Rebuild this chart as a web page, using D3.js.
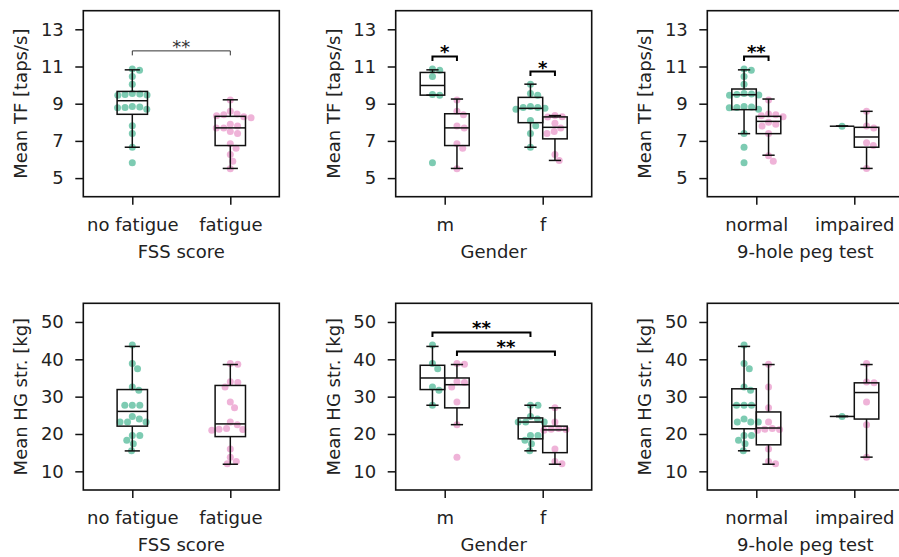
<!DOCTYPE html>
<html>
<head>
<meta charset="utf-8">
<script src="https://cdn.jsdelivr.net/npm/d3@7"></script>
<style>
  html, body { margin: 0; padding: 0; background: #fff; overflow: hidden; }
  svg { display: block; font-family: "DejaVu Sans", sans-serif; }
</style>
</head>
<body>
<div id="chart"></div>
<script>
// categories
var fssCats = ["no fatigue", "fatigue"];
var genderCats = ["m", "f"];
var pegCats = ["normal", "impaired"];

// mean tapping frequency [taps/s]
var tfFssNo = [10.86, 10.8, 10.46, 10.05, 9.55, 9.52, 9.5, 9.47, 9.45, 8.85, 8.82, 8.8, 8.78, 8.7, 7.82, 7.4, 6.66, 5.82];
var tfFssYes = [9.2, 8.6, 8.45, 8.4, 8.35, 8.3, 8.25, 7.9, 7.8, 7.7, 7.7, 7.5, 7.4, 6.85, 6.6, 6.27, 5.9, 5.5];
var tfMNo = [10.86, 10.8, 10.46, 9.5, 9.45, 5.82];
var tfMYes = [9.2, 8.6, 8.4, 7.8, 7.7, 6.85, 6.6, 5.5];
var tfFNo = [10.05, 9.55, 9.45, 8.85, 8.8, 8.8, 8.75, 8.7, 8.1, 7.82, 7.4, 6.66];
var tfFYes = [8.36, 8.3, 8.28, 7.95, 7.7, 7.5, 7.4, 6.27, 5.95];
var tfNormNo = [10.86, 10.8, 10.46, 10.05, 9.55, 9.52, 9.5, 9.47, 9.45, 8.85, 8.82, 8.8, 8.78, 8.7, 7.4, 6.66, 5.82];
var tfNormYes = [9.2, 8.45, 8.4, 8.35, 8.3, 8.0, 7.9, 7.8, 7.4, 6.2, 5.9];
var tfImpNo = [7.79];
var tfImpYes = [8.59, 7.8, 7.7, 6.9, 6.75, 5.52];

// box stats: [low whisker, q1, median, q3, high whisker]
var tfFssNoBox = [6.66, 8.43, 9.16, 9.66, 10.82];
var tfFssYesBox = [5.52, 6.75, 7.7, 8.32, 9.21];
var tfMNoBox = [9.46, 9.46, 9.98, 10.68, 10.82];
var tfMYesBox = [5.52, 6.75, 7.7, 8.46, 9.25];
var tfFNoBox = [6.66, 7.98, 8.75, 9.34, 10.05];
var tfFYesBox = [5.95, 7.11, 7.73, 8.29, 8.36];
var tfNormNoBox = [7.39, 8.68, 9.48, 9.79, 10.82];
var tfNormYesBox = [6.23, 7.39, 8.05, 8.32, 9.25];
var tfImpNoBox = [7.79, 7.79, 7.79, 7.79, 7.79];
var tfImpYesBox = [5.52, 6.66, 7.21, 7.73, 8.59];

// mean hand grip strength [kg]
var hgFssNo = [43.8, 38.9, 37.5, 32.6, 31.7, 27.7, 27.7, 27.7, 24.7, 24.0, 23.2, 23.2, 23.2, 19.6, 19.6, 18.3, 17.4, 15.5];
var hgFssYes = [38.9, 38.7, 34.0, 33.8, 32.6, 28.6, 27.0, 23.2, 22.5, 21.5, 21.3, 21.2, 21.0, 16.0, 13.8, 12.6, 12.0];
var hgMNo = [43.8, 38.9, 37.5, 32.6, 31.7, 27.7];
var hgMYes = [38.9, 38.7, 34.0, 33.8, 32.6, 28.6, 22.5, 13.8];
var hgFNo = [27.7, 27.7, 24.7, 24.0, 23.2, 23.2, 23.2, 19.6, 19.6, 18.3, 17.4, 15.5];
var hgFYes = [27.0, 23.2, 21.5, 21.3, 21.2, 21.0, 16.0, 12.6, 12.0];
var hgNormNo = [43.8, 38.9, 37.5, 32.6, 31.7, 27.7, 27.7, 27.7, 24.0, 23.2, 23.2, 23.2, 19.6, 19.6, 18.3, 17.4, 15.5];
var hgNormYes = [38.7, 32.6, 27.0, 23.2, 21.5, 21.3, 21.2, 21.0, 16.0, 12.6, 12.0];
var hgImpNo = [24.7];
var hgImpYes = [38.9, 33.9, 33.7, 28.6, 22.5, 13.8];

var hgFssNoBox = [15.47, 22.1, 26.05, 31.9, 43.45];
var hgFssYesBox = [11.9, 19.3, 22.7, 33.0, 38.6];
var hgMNoBox = [27.7, 31.9, 35.0, 38.4, 43.45];
var hgMYesBox = [22.5, 27.0, 33.2, 35.0, 38.6];
var hgFNoBox = [15.5, 18.7, 23.2, 24.3, 27.7];
var hgFYesBox = [11.9, 15.0, 21.1, 22.1, 27.0];
var hgNormNoBox = [15.5, 21.4, 27.7, 32.1, 43.45];
var hgNormYesBox = [11.9, 17.1, 21.6, 25.9, 38.6];
var hgImpNoBox = [24.7, 24.7, 24.7, 24.7, 24.7];
var hgImpYesBox = [13.8, 24.0, 31.1, 33.7, 38.6];

// axis ticks
var tfTicks = [5, 7, 9, 11, 13];
var hgTicks = [10, 20, 30, 40, 50];

var green = "#66c2a5", pink = "#e78ac3";

var W = 899, H = 557;
var svg = d3.select("#chart").append("svg").attr("width", W).attr("height", H);

var colX = [83.3, 395.7, 707.3], axW = 196;
var rowY = [[10.7, 196.7], [303.3, 490]];

function grp(cat, off, w, color, vals, box) {
    return { cat: cat, off: off, w: w, color: color, vals: vals, box: box };
}

var panels = [
    { r: 0, c: 0, cats: fssCats, dom: [4, 14], ticks: tfTicks, ylab: "Mean TF [taps/s]", xlab: "FSS score",
      groups: [grp(0, 0, 0.31, green, tfFssNo, tfFssNoBox), grp(1, 0, 0.31, pink, tfFssYes, tfFssYesBox)],
      sig: [{ x0: 0, x1: 1, y: 11.84, t: "**", light: true }] },
    { r: 0, c: 1, cats: genderCats, dom: [4, 14], ticks: tfTicks, ylab: "Mean TF [taps/s]", xlab: "Gender",
      groups: [grp(0, -0.125, 0.25, green, tfMNo, tfMNoBox), grp(0, 0.125, 0.25, pink, tfMYes, tfMYesBox),
               grp(1, -0.125, 0.25, green, tfFNo, tfFNoBox), grp(1, 0.125, 0.25, pink, tfFYes, tfFYesBox)],
      sig: [{ x0: -0.125, x1: 0.125, y: 11.54, t: "*" }, { x0: 0.875, x1: 1.125, y: 10.73, t: "*" }] },
    { r: 0, c: 2, cats: pegCats, dom: [4, 14], ticks: tfTicks, ylab: "Mean TF [taps/s]", xlab: "9-hole peg test",
      groups: [grp(0, -0.125, 0.25, green, tfNormNo, tfNormNoBox), grp(0, 0.125, 0.25, pink, tfNormYes, tfNormYesBox),
               grp(1, -0.125, 0.25, green, tfImpNo, tfImpNoBox), grp(1, 0.125, 0.25, pink, tfImpYes, tfImpYesBox)],
      sig: [{ x0: -0.125, x1: 0.125, y: 11.54, t: "**" }] },
    { r: 1, c: 0, cats: fssCats, dom: [5, 55], ticks: hgTicks, ylab: "Mean HG str. [kg]", xlab: "FSS score",
      groups: [grp(0, 0, 0.31, green, hgFssNo, hgFssNoBox), grp(1, 0, 0.31, pink, hgFssYes, hgFssYesBox)],
      sig: [] },
    { r: 1, c: 1, cats: genderCats, dom: [5, 55], ticks: hgTicks, ylab: "Mean HG str. [kg]", xlab: "Gender",
      groups: [grp(0, -0.125, 0.25, green, hgMNo, hgMNoBox), grp(0, 0.125, 0.25, pink, hgMYes, hgMYesBox),
               grp(1, -0.125, 0.25, green, hgFNo, hgFNoBox), grp(1, 0.125, 0.25, pink, hgFYes, hgFYesBox)],
      sig: [{ x0: -0.125, x1: 0.875, y: 47.2, t: "**" }, { x0: 0.125, x1: 1.125, y: 42.1, t: "**" }] },
    { r: 1, c: 2, cats: pegCats, dom: [5, 55], ticks: hgTicks, ylab: "Mean HG str. [kg]", xlab: "9-hole peg test",
      groups: [grp(0, -0.125, 0.25, green, hgNormNo, hgNormNoBox), grp(0, 0.125, 0.25, pink, hgNormYes, hgNormYesBox),
               grp(1, -0.125, 0.25, green, hgImpNo, hgImpNoBox), grp(1, 0.125, 0.25, pink, hgImpYes, hgImpYesBox)],
      sig: [] }
];

// simple beeswarm: place each point at the smallest offset that does not overlap
function swarm(vals, y, cx, d) {
    var pts = vals.map(v => ({ v: v, y: y(v) })).sort((a, b) => a.y - b.y);
    var placed = [];
    pts.forEach(p => {
        for (var k = 0; k < 400; k++) {
            var cands = k === 0 ? [0] : [k * 0.25, -k * 0.25];
            var ok = null;
            for (var c of cands) {
                var hit = placed.some(q => {
                    var dx = q.x - (cx + c), dy = q.y - p.y;
                    return dx * dx + dy * dy < d * d - 0.01;
                });
                if (!hit) { ok = c; break; }
            }
            if (ok !== null) { p.x = cx + ok; break; }
        }
        placed.push(p);
    });
    return placed;
}

var fs = 18;

panels.forEach(p => {
    var x0 = colX[p.c], y0 = rowY[p.r][0], y1 = rowY[p.r][1];
    var x = d3.scaleLinear().domain([-0.5, 1.5]).range([x0, x0 + axW]);
    var y = d3.scaleLinear().domain(p.dom).range([y1, y0]);
    var g = svg.append("g");

    // points
    p.groups.forEach(gr => {
        var cx = x(gr.cat + gr.off);
        g.append("g").selectAll("circle")
            .data(swarm(gr.vals, y, cx, 7.3))
            .enter().append("circle")
            .attr("cx", d => d.x)
            .attr("cy", d => d.y)
            .attr("r", 3.5)
            .attr("fill", gr.color)
            .attr("fill-opacity", gr.color === green ? 0.85 : 0.65);
    });

    // boxes
    p.groups.forEach(gr => {
        var c = gr.cat + gr.off, b = gr.box;
        var bx0 = x(c - gr.w / 2), bx1 = x(c + gr.w / 2), cx = x(c);
        var cw = (bx1 - bx0) / 4;
        var bg = g.append("g").attr("stroke", "#111").attr("stroke-width", 1.5).attr("fill", "none");
        bg.append("line").attr("x1", cx).attr("x2", cx).attr("y1", y(b[0])).attr("y2", y(b[1]));
        bg.append("line").attr("x1", cx).attr("x2", cx).attr("y1", y(b[3])).attr("y2", y(b[4]));
        bg.append("line").attr("x1", cx - cw).attr("x2", cx + cw).attr("y1", y(b[0])).attr("y2", y(b[0]));
        bg.append("line").attr("x1", cx - cw).attr("x2", cx + cw).attr("y1", y(b[4])).attr("y2", y(b[4]));
        bg.append("rect").attr("x", bx0).attr("y", y(b[3]))
            .attr("width", bx1 - bx0).attr("height", Math.max(0, y(b[1]) - y(b[3])));
        bg.append("line").attr("x1", bx0).attr("x2", bx1).attr("y1", y(b[2])).attr("y2", y(b[2]));
    });

    // significance brackets
    p.sig.forEach(s => {
        var col = s.light ? "#333" : "#000";
        var sw = s.light ? 1 : 2;
        var yy = y(s.y);
        g.append("path")
            .attr("d", "M" + x(s.x0) + "," + (yy + 4.5) + "V" + yy + "H" + x(s.x1) + "V" + (yy + 4.5))
            .attr("fill", "none").attr("stroke", col).attr("stroke-width", sw);
        g.append("text")
            .attr("x", (x(s.x0) + x(s.x1)) / 2).attr("y", yy + 2)
            .attr("text-anchor", "middle")
            .attr("font-size", fs)
            .attr("font-weight", s.light ? "normal" : "bold")
            .attr("fill", col)
            .text(s.t);
    });

    // spines
    g.append("rect").attr("x", x0).attr("y", y0).attr("width", axW).attr("height", y1 - y0)
        .attr("fill", "none").attr("stroke", "#111").attr("stroke-width", 1.6);

    // axes
    var ya = g.append("g").attr("transform", "translate(" + x0 + ",0)")
        .call(d3.axisLeft(y).tickValues(p.ticks).tickSize(8).tickPadding(11.5));
    var xa = g.append("g").attr("transform", "translate(0," + y1 + ")")
        .call(d3.axisBottom(x).tickValues([0, 1]).tickFormat(i => p.cats[i]).tickSize(8).tickPadding(13.2));
    [ya, xa].forEach(a => {
        a.select(".domain").remove();
        a.selectAll(".tick line").attr("stroke", "#111").attr("stroke-width", 1.5);
        a.selectAll(".tick text").attr("fill", "#222").style("font-size", fs + "px")
            .style("font-family", "DejaVu Sans, sans-serif");
    });

    g.append("text")
        .attr("transform", "translate(" + (colX[p.c] - 62.5) + "," + ((y0 + y1) / 2) + ") rotate(-90)")
        .attr("text-anchor", "middle").attr("dy", "0.35em")
        .attr("font-size", fs).attr("fill", "#222").text(p.ylab);
    g.append("text")
        .attr("x", x(0.5)).attr("y", y1 + 61)
        .attr("text-anchor", "middle")
        .attr("font-size", fs).attr("fill", "#222").text(p.xlab);
});
</script>
</body>
</html>
